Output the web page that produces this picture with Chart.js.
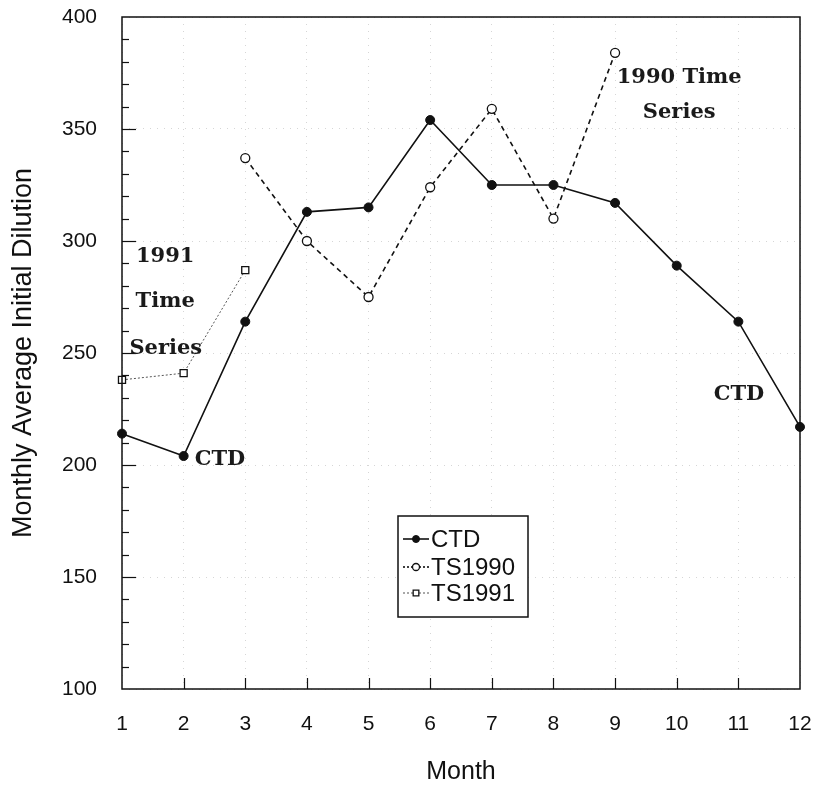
<!DOCTYPE html>
<html lang="en">
<head>
<meta charset="utf-8">
<script src="https://cdn.jsdelivr.net/npm/chart.js@4.4.1/dist/chart.umd.min.js"></script>
<style>
  body { margin: 0; background: #fff; }
  canvas { display: block; }
</style>
</head>
<body>
<canvas id="myChart" width="817" height="787"></canvas>
<script>

// data
const months = ['1', '2', '3', '4', '5', '6', '7', '8', '9', '10', '11', '12'];
const ctd    = [214, 204, 264, 313, 315, 354, 325, 325, 317, 289, 264, 217];
const ts1990 = [null, null, 337, 300, 275, 324, 359, 310, 384, null, null, null];
const ts1991 = [238, 241, 287, null, null, null, null, null, null, null, null, null];
const yTicks = [100, 150, 200, 250, 300, 350, 400];

// text written inside the plot, placed in data units (month, value)
const notes = [
    { text: '1990 Time', x: 10.04, y: 373 },
    { text: 'Series',    x: 10.04, y: 357.5 },
    { text: '1991',      x: 1.70,  y: 293 },
    { text: 'Time',      x: 1.70,  y: 273 },
    { text: 'Series',    x: 1.71,  y: 252 },
    { text: 'CTD',       x: 2.59,  y: 202.5 },
    { text: 'CTD',       x: 11.01, y: 231.5 }
];

const sansFont = '"Liberation Sans", Arial, sans-serif';
const serifFont = '"DejaVu Serif", serif';

const framePlugin = {
    id: 'frame',
    afterDatasetsDraw(chart) {
        const ctx = chart.ctx;
        const a = chart.chartArea;
        const xs = chart.scales.x;
        const ys = chart.scales.y;

        ctx.save();
        ctx.strokeStyle = '#111';
        ctx.lineWidth = 1.5;
        ctx.strokeRect(a.left, a.top, a.right - a.left, a.bottom - a.top);

        // inner ticks on the value axis
        ctx.lineWidth = 1.2;
        for (let v = 110; v < 400; v += 10) {
            const py = Math.round(ys.getPixelForValue(v)) + 0.5;
            const len = v % 50 === 0 ? 14 : 7;
            ctx.beginPath();
            ctx.moveTo(a.left, py);
            ctx.lineTo(a.left + len, py);
            ctx.stroke();
        }
        // inner ticks on the month axis
        for (let i = 1; i < months.length - 1; i++) {
            const px = Math.round(xs.getPixelForValue(i)) + 0.5;
            ctx.beginPath();
            ctx.moveTo(px, a.bottom);
            ctx.lineTo(px, a.bottom - 11);
            ctx.stroke();
        }

        // annotations
        ctx.fillStyle = '#1a1a1a';
        ctx.font = 'bold 21px ' + serifFont;
        ctx.textAlign = 'center';
        ctx.textBaseline = 'middle';
        notes.forEach(n => {
            ctx.fillText(n.text, xs.getPixelForValue(n.x - 1), ys.getPixelForValue(n.y));
        });

        // legend box
        const bx0 = Math.round(xs.getPixelForValue(4.48)), bx1 = Math.round(xs.getPixelForValue(6.59));
        const by0 = Math.round(ys.getPixelForValue(177.2)), by1 = Math.round(ys.getPixelForValue(132.1));
        ctx.fillStyle = '#fff';
        ctx.fillRect(bx0, by0, bx1 - bx0, by1 - by0);
        ctx.strokeStyle = '#111';
        ctx.lineWidth = 1.5;
        ctx.strokeRect(bx0, by0, bx1 - bx0, by1 - by0);

        ctx.font = '24px ' + sansFont;
        ctx.textAlign = 'left';
        const rowY = [by0 + 23, by0 + 51, by0 + 77];
        chart.data.datasets.forEach((ds, i) => {
            const cy = rowY[i];
            ctx.save();
            ctx.strokeStyle = ds.borderColor;
            ctx.lineWidth = ds.borderWidth;
            ctx.setLineDash(ds.legendDash || []);
            ctx.beginPath();
            ctx.moveTo(bx0 + 5, cy);
            ctx.lineTo(bx0 + 31, cy);
            ctx.stroke();
            ctx.restore();
            ctx.save();
            ctx.fillStyle = ds.pointBackgroundColor;
            ctx.strokeStyle = ds.pointBorderColor;
            ctx.lineWidth = ds.pointBorderWidth;
            Chart.helpers.drawPoint(ctx, {
                pointStyle: ds.pointStyle,
                radius: ds.pointRadius - 1,
                rotation: 0,
                borderWidth: ds.pointBorderWidth
            }, bx0 + 18, cy);
            ctx.restore();
            ctx.fillStyle = '#111';
            ctx.fillText(ds.label, bx0 + 33, cy + 1);
        });
        ctx.restore();
    }
};

const ctx = document.getElementById('myChart').getContext('2d');

const myChart = new Chart(ctx, {
    type: 'line',
    data: {
        labels: months,
        datasets: [
            {
                label: 'CTD',
                data: ctd,
                borderColor: '#111',
                borderWidth: 1.6,
                pointStyle: 'circle',
                pointRadius: 4.5,
                pointBackgroundColor: '#111',
                pointBorderColor: '#111',
                pointBorderWidth: 1,
                tension: 0,
                clip: false
            },
            {
                label: 'TS1990',
                data: ts1990,
                borderColor: '#111',
                borderWidth: 1.6,
                borderDash: [5, 4],
                legendDash: [2, 2],
                pointStyle: 'circle',
                pointRadius: 4.5,
                pointBackgroundColor: '#fff',
                pointBorderColor: '#111',
                pointBorderWidth: 1.3,
                tension: 0,
                clip: false
            },
            {
                label: 'TS1991',
                data: ts1991,
                borderColor: '#555',
                borderWidth: 1,
                borderDash: [2, 2],
                legendDash: [2, 2],
                pointStyle: 'rect',
                pointRadius: 5,
                pointBackgroundColor: '#fff',
                pointBorderColor: '#111',
                pointBorderWidth: 1.3,
                tension: 0,
                clip: false
            }
        ]
    },
    options: {
        responsive: false,
        animation: false,
        layout: { padding: { top: 17, right: 17, left: 0, bottom: 0 } },
        plugins: {
            legend: { display: false },
            tooltip: { enabled: false }
        },
        scales: {
            x: {
                offset: false,
                afterFit(scale) {
                    scale.height = 98;
                    scale.paddingLeft = 0;
                    scale.paddingRight = 0;
                },
                grid: { color: '#d6d6d6', lineWidth: 1, drawTicks: false },
                border: { display: false, dash: [1, 6] },
                ticks: { color: '#111', font: { family: sansFont, size: 21 }, padding: 23, maxRotation: 0 },
                title: { display: true, text: 'Month', color: '#111', font: { family: sansFont, size: 25 }, padding: { top: 0, bottom: 0 } }
            },
            y: {
                min: 100,
                max: 400,
                afterFit(scale) {
                    scale.width = 122;
                    scale.paddingTop = 0;
                    scale.paddingBottom = 0;
                },
                afterBuildTicks(scale) { scale.ticks = yTicks.map(v => ({ value: v })); },
                grid: { color: '#d6d6d6', lineWidth: 1, drawTicks: false },
                border: { display: false, dash: [1, 6] },
                ticks: { color: '#111', font: { family: sansFont, size: 21 }, padding: 25 },
                title: { display: true, text: 'Monthly Average Initial Dilution', color: '#111', font: { family: sansFont, size: 27 }, padding: { top: 7, bottom: 0 } }
            }
        }
    },
    plugins: [framePlugin]
});

</script>
</body>
</html>
